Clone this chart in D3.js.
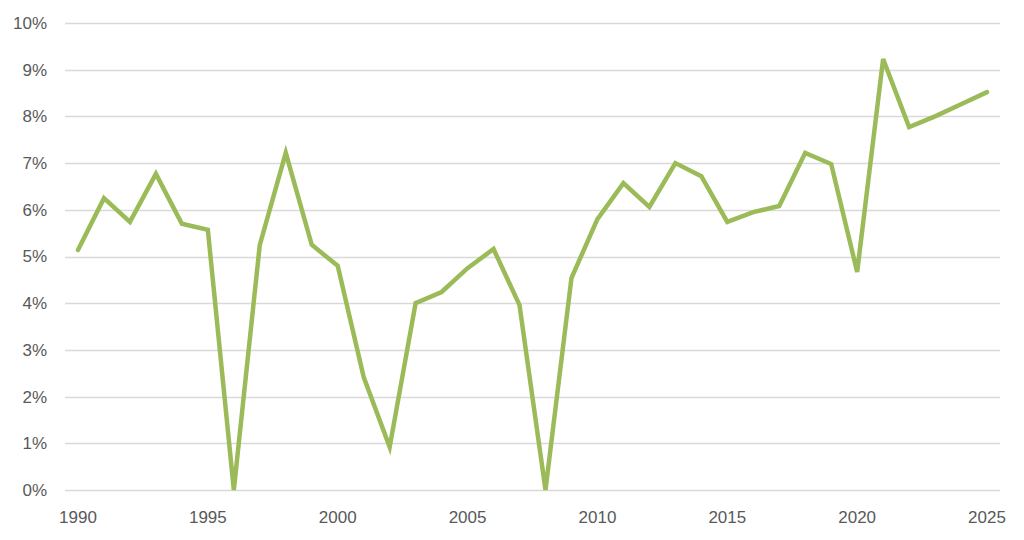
<!DOCTYPE html>
<html>
<head>
<meta charset="utf-8">
<script src="https://cdnjs.cloudflare.com/ajax/libs/d3/7.8.5/d3.min.js"></script>
<style>
  body { margin: 0; background: #fff; }
  text { font-family: "Liberation Sans", "DejaVu Sans", sans-serif; fill: #595959; }
</style>
</head>
<body>
<div class="chart"></div>
<script>
// data (percent)
var years = d3.range(1990, 2026);
var growth = [5.14, 6.25, 5.74, 6.77, 5.70, 5.57, 0.0, 5.25, 7.22, 5.25,
              4.80, 2.42, 0.92, 4.00, 4.24, 4.75, 5.16, 3.96, 0.0, 4.54,
              5.80, 6.57, 6.06, 7.00, 6.72, 5.74, 5.95, 6.08, 7.22, 6.98,
              4.67, 9.23, 7.77, 8.00, 8.26, 8.52];
var yTicks = [0, 1, 2, 3, 4, 5, 6, 7, 8, 9, 10];
var xLabels = [1990, 1995, 2000, 2005, 2010, 2015, 2020, 2025];

var svg_w = 1024, svg_h = 540;
var plotLeft = 65, plotRight = 1000, plotTop = 23, plotBottom = 490;

var svg = d3.select("div.chart").append("svg")
	.attr("width", svg_w)
	.attr("height", svg_h);

var x = d3.scalePoint()
	.domain(years)
	.range([plotLeft, plotRight])
	.padding(0.5);

var y = d3.scaleLinear()
	.domain([0, 10])
	.range([plotBottom, plotTop]);

// gridlines
svg.append("g").selectAll("line")
	.data(yTicks)
	.enter()
	.append("line")
	.attr("x1", plotLeft)
	.attr("x2", plotRight)
	.attr("y1", function(d) { return Math.round(y(d)) + 0.5; })
	.attr("y2", function(d) { return Math.round(y(d)) + 0.5; })
	.attr("stroke", "#d9d9d9")
	.attr("stroke-width", 1.3);

// y labels
svg.append("g").selectAll("text")
	.data(yTicks)
	.enter()
	.append("text")
	.attr("x", 47)
	.attr("y", function(d) { return y(d); })
	.attr("dy", "0.35em")
	.attr("text-anchor", "end")
	.attr("font-size", "17px")
	.text(function(d) { return d + "%"; });

// x labels
svg.append("g").selectAll("text")
	.data(xLabels)
	.enter()
	.append("text")
	.attr("x", function(d) { return x(d); })
	.attr("y", 523)
	.attr("text-anchor", "middle")
	.attr("font-size", "17px")
	.text(function(d) { return d; });

// the line
var line = d3.line()
	.x(function(d, i) { return x(years[i]); })
	.y(function(d) { return y(d); });

svg.append("path")
	.datum(growth)
	.attr("d", line)
	.attr("fill", "none")
	.attr("stroke", "#9bbb59")
	.attr("stroke-width", 4.5)
	.attr("stroke-linejoin", "miter")
	.attr("stroke-miterlimit", 4)
	.attr("stroke-linecap", "round");
</script>
</body>
</html>
